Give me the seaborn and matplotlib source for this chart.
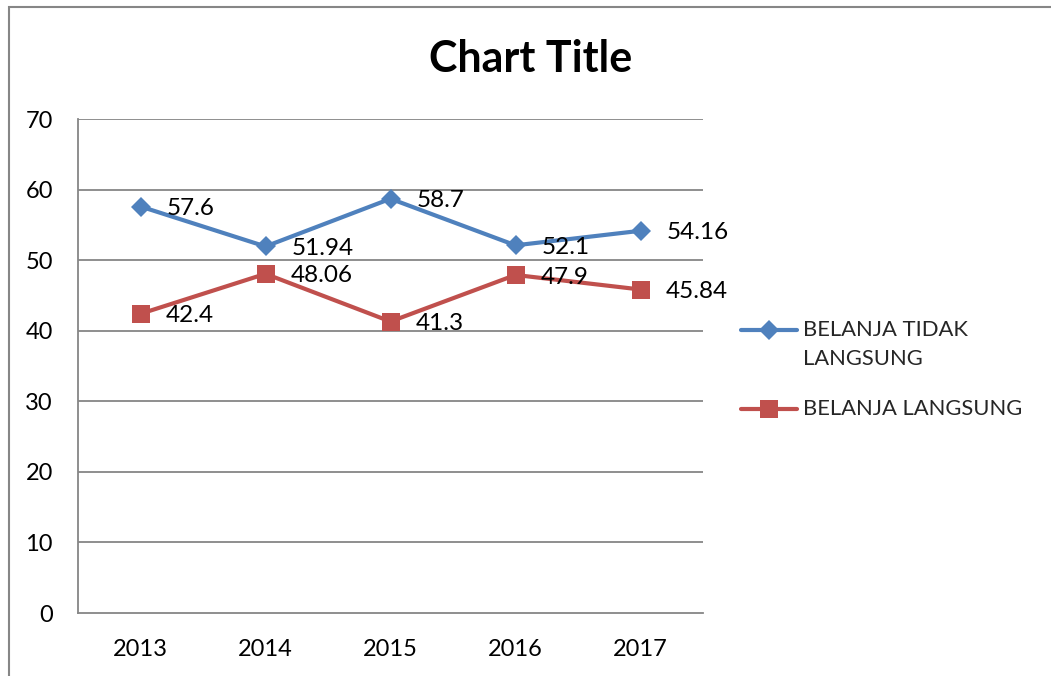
import pandas as pd
import matplotlib.pyplot as plt
import seaborn as sns
from matplotlib.lines import Line2D
from matplotlib.patches import Rectangle

# --- Data ---
years = [2013, 2014, 2015, 2016, 2017]
tidak_langsung = [57.6, 51.94, 58.7, 52.1, 54.16]
langsung = [42.4, 48.06, 41.3, 47.9, 45.84]
series_names = ['BELANJA TIDAK LANGSUNG', 'BELANJA LANGSUNG']
legend_labels = ['BELANJA TIDAK\nLANGSUNG', 'BELANJA LANGSUNG']
y_ticks = [0, 10, 20, 30, 40, 50, 60, 70]

df = pd.DataFrame({
    'year': years * 2,
    'value': tidak_langsung + langsung,
    'series': [series_names[0]] * len(years) + [series_names[1]] * len(years),
})

blue = '#4F81BD'
red = '#C0504D'
grid_gray = '#868686'

sns.set_style('white')
plt.rcParams['font.family'] = ['Lato', 'DejaVu Sans']

fig = plt.figure(figsize=(10.51, 6.76), dpi=100)
ax = fig.add_axes([78 / 1051, 1 - 613 / 676, (703 - 78) / 1051, (613 - 119) / 676])

# chart-area border (left and top edges visible only)
fig.patches.append(Rectangle((9 / 1051, -0.1), 1.2, 1 - 7 / 676 + 0.1,
                             transform=fig.transFigure, fill=False,
                             edgecolor=grid_gray, linewidth=1.5))

for yt in y_ticks[1:]:
    ax.axhline(yt, color=grid_gray, linewidth=1.3, zorder=0)

sns.lineplot(data=df, x='year', y='value', hue='series', style='series',
             palette={series_names[0]: blue, series_names[1]: red},
             markers={series_names[0]: 'D', series_names[1]: 's'},
             dashes=False, linewidth=3, markeredgewidth=0,
             legend=False, ax=ax)

for line, ms in zip(ax.get_lines()[-2:], [10, 13.5]):
    line.set_markersize(ms)

for vals in [tidak_langsung, langsung]:
    for x, y in zip(years, vals):
        ax.annotate(f'{y:g}', (x, y), xytext=(18.5, -1.5), textcoords='offset points',
                    ha='left', va='center', fontsize=17.5, color='black', zorder=5)

ax.set_xlim(2012.5, 2017.5)
ax.set_ylim(0, 70)
ax.set_xticks(years)
ax.set_xticklabels([str(y) for y in years])
ax.set_yticks(y_ticks)
ax.tick_params(axis='both', length=0, labelsize=17, colors='black')
ax.tick_params(axis='x', pad=19)
ax.tick_params(axis='y', pad=18)
ax.set_xlabel('')
ax.set_ylabel('')
for side in ['top', 'right']:
    ax.spines[side].set_visible(False)
for side in ['left', 'bottom']:
    ax.spines[side].set_color(grid_gray)
    ax.spines[side].set_linewidth(1.3)

fig.text(531 / 1051, 1 - 59 / 676, 'Chart Title', ha='center', va='center',
         fontsize=31, fontweight='bold', color='black')

# legend, handle aligned with first text line
leg_y = [330, 409]
for (lbl, col, mk, ms), ly in zip(
        [(legend_labels[0], blue, 'D', 10), (legend_labels[1], red, 's', 13.5)], leg_y):
    fy = 1 - ly / 676
    fig.add_artist(Line2D([741 / 1051, 797 / 1051], [fy, fy], transform=fig.transFigure,
                          color=col, linewidth=3))
    fig.add_artist(Line2D([769 / 1051], [fy], transform=fig.transFigure, color=col,
                          marker=mk, markersize=ms, markeredgewidth=0))
    fig.text(803 / 1051, fy + 10 / 676, lbl, ha='left', va='top', fontsize=15.8,
             linespacing=1.55)

fig.savefig('out.png', dpi=100)
